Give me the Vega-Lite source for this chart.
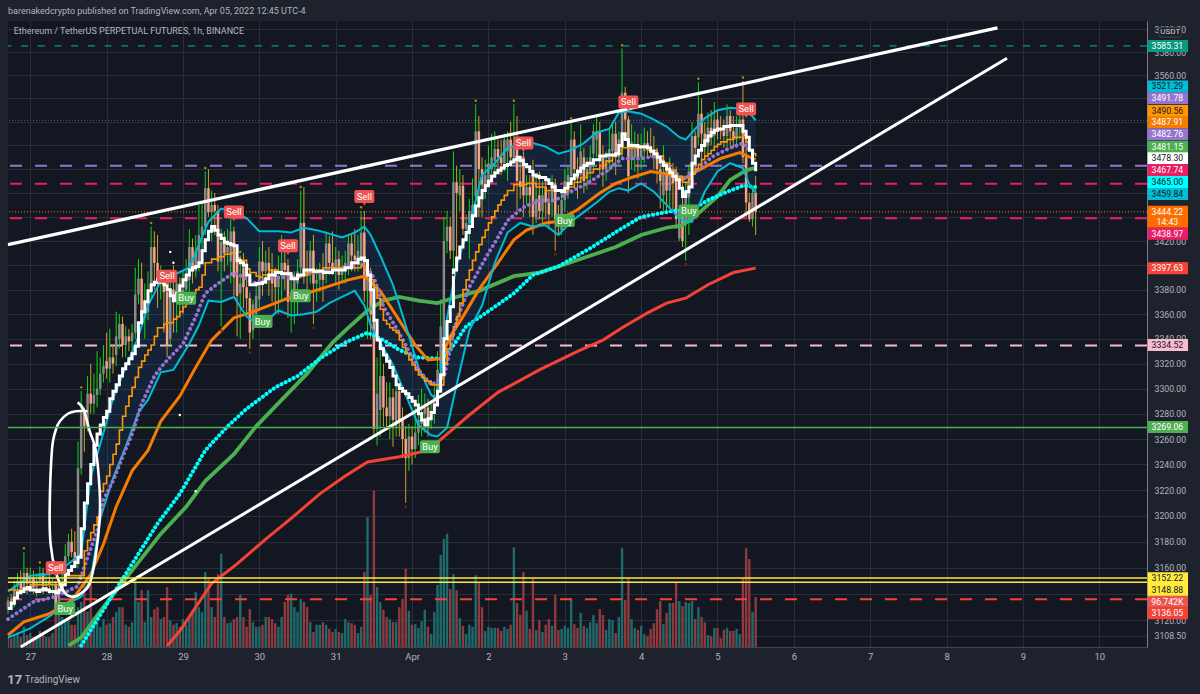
{
"$schema":"https://vega.github.io/schema/vega-lite/v6.json",
"width":1139,"height":626,"autosize":"none",
"padding":{"left":8,"top":21,"right":53,"bottom":47},
"background":"#1e222d",
"view":{"fill":"#131722","stroke":null},
"config":{"font":"Roboto","style":{"guide-label":{"font":"Roboto"}}},
"datasets":{
"candles":[
{"hour":-7,"open":3128,"high":3138,"low":3125,"close":3135,"volume":23},
{"hour":-6,"open":3135,"high":3140,"low":3128,"close":3132,"volume":17},
{"hour":-5,"open":3132,"high":3150,"low":3130,"close":3146,"volume":21},
{"hour":-4,"open":3146,"high":3156,"low":3142,"close":3150,"volume":27},
{"hour":-3,"open":3150,"high":3158,"low":3140,"close":3144,"volume":19},
{"hour":-2,"open":3144,"high":3172,"low":3142,"close":3156,"volume":39},
{"hour":-1,"open":3156,"high":3160,"low":3140,"close":3148,"volume":23},
{"hour":0,"open":3148,"high":3160,"low":3142,"close":3152,"volume":27},
{"hour":1,"open":3152,"high":3158,"low":3140,"close":3145,"volume":19},
{"hour":2,"open":3145,"high":3156,"low":3138,"close":3150,"volume":19},
{"hour":3,"open":3150,"high":3161,"low":3146,"close":3156,"volume":31},
{"hour":4,"open":3156,"high":3160,"low":3140,"close":3146,"volume":23},
{"hour":5,"open":3146,"high":3154,"low":3142,"close":3150,"volume":19},
{"hour":6,"open":3150,"high":3155,"low":3140,"close":3147,"volume":19},
{"hour":7,"open":3147,"high":3152,"low":3138,"close":3148,"volume":27},
{"hour":8,"open":3148,"high":3150,"low":3124,"close":3127,"volume":108},
{"hour":9,"open":3127,"high":3150,"low":3124,"close":3146,"volume":70},
{"hour":10,"open":3146,"high":3160,"low":3144,"close":3148,"volume":58},
{"hour":11,"open":3153,"high":3178,"low":3150,"close":3169,"volume":50},
{"hour":12,"open":3169,"high":3186,"low":3165,"close":3180,"volume":58},
{"hour":13,"open":3180,"high":3190,"low":3168,"close":3172,"volume":43},
{"hour":14,"open":3172,"high":3188,"low":3160,"close":3165,"volume":43},
{"hour":15,"open":3165,"high":3258,"low":3160,"close":3237,"volume":77},
{"hour":16,"open":3237,"high":3298,"low":3232,"close":3281,"volume":87},
{"hour":17,"open":3281,"high":3285,"low":3250,"close":3270,"volume":126},
{"hour":18,"open":3270,"high":3310,"low":3266,"close":3296,"volume":68},
{"hour":19,"open":3296,"high":3320,"low":3280,"close":3288,"volume":126},
{"hour":20,"open":3288,"high":3312,"low":3280,"close":3295,"volume":58},
{"hour":21,"open":3295,"high":3330,"low":3285,"close":3300,"volume":48},
{"hour":22,"open":3300,"high":3325,"low":3295,"close":3312,"volume":39},
{"hour":23,"open":3312,"high":3335,"low":3305,"close":3318,"volume":54},
{"hour":24,"open":3322,"high":3345,"low":3308,"close":3316,"volume":43},
{"hour":25,"open":3316,"high":3348,"low":3305,"close":3325,"volume":46},
{"hour":26,"open":3325,"high":3335,"low":3312,"close":3320,"volume":58},
{"hour":27,"open":3327,"high":3362,"low":3318,"close":3342,"volume":68},
{"hour":28,"open":3340,"high":3360,"low":3332,"close":3352,"volume":77},
{"hour":29,"open":3352,"high":3358,"low":3325,"close":3335,"volume":77},
{"hour":30,"open":3335,"high":3350,"low":3325,"close":3342,"volume":43},
{"hour":31,"open":3342,"high":3348,"low":3330,"close":3338,"volume":39},
{"hour":32,"open":3338,"high":3352,"low":3332,"close":3345,"volume":48},
{"hour":33,"open":3345,"high":3398,"low":3340,"close":3376,"volume":130},
{"hour":34,"open":3376,"high":3405,"low":3368,"close":3389,"volume":87},
{"hour":35,"open":3389,"high":3402,"low":3350,"close":3357,"volume":110},
{"hour":36,"open":3357,"high":3385,"low":3340,"close":3362,"volume":48},
{"hour":37,"open":3362,"high":3395,"low":3355,"close":3378,"volume":110},
{"hour":38,"open":3378,"high":3432,"low":3372,"close":3415,"volume":58},
{"hour":39,"open":3415,"high":3428,"low":3380,"close":3402,"volume":73},
{"hour":40,"open":3402,"high":3425,"low":3365,"close":3385,"volume":77},
{"hour":41,"open":3385,"high":3400,"low":3372,"close":3392,"volume":54},
{"hour":42,"open":3392,"high":3395,"low":3345,"close":3378,"volume":58},
{"hour":43,"open":3378,"high":3380,"low":3325,"close":3335,"volume":116},
{"hour":44,"open":3340,"high":3392,"low":3335,"close":3380,"volume":52},
{"hour":45,"open":3380,"high":3400,"low":3345,"close":3370,"volume":43},
{"hour":46,"open":3370,"high":3395,"low":3345,"close":3385,"volume":46},
{"hour":47,"open":3385,"high":3390,"low":3362,"close":3372,"volume":39},
{"hour":48,"open":3372,"high":3395,"low":3360,"close":3380,"volume":54},
{"hour":49,"open":3380,"high":3405,"low":3372,"close":3388,"volume":43},
{"hour":50,"open":3388,"high":3430,"low":3370,"close":3415,"volume":58},
{"hour":51,"open":3415,"high":3422,"low":3385,"close":3395,"volume":68},
{"hour":52,"open":3395,"high":3425,"low":3390,"close":3412,"volume":106},
{"hour":53,"open":3400,"high":3450,"low":3395,"close":3425,"volume":77},
{"hour":54,"open":3425,"high":3452,"low":3410,"close":3432,"volume":68},
{"hour":55,"open":3432,"high":3478,"low":3425,"close":3464,"volume":145},
{"hour":56,"open":3464,"high":3480,"low":3440,"close":3444,"volume":132},
{"hour":57,"open":3444,"high":3462,"low":3420,"close":3450,"volume":77},
{"hour":58,"open":3450,"high":3460,"low":3425,"close":3445,"volume":58},
{"hour":59,"open":3445,"high":3450,"low":3395,"close":3403,"volume":141},
{"hour":60,"open":3403,"high":3430,"low":3350,"close":3419,"volume":180},
{"hour":61,"open":3419,"high":3428,"low":3395,"close":3410,"volume":58},
{"hour":62,"open":3410,"high":3430,"low":3400,"close":3415,"volume":46},
{"hour":63,"open":3403,"high":3440,"low":3385,"close":3428,"volume":48},
{"hour":64,"open":3428,"high":3432,"low":3375,"close":3390,"volume":54},
{"hour":65,"open":3405,"high":3412,"low":3342,"close":3375,"volume":58},
{"hour":66,"open":3377,"high":3408,"low":3340,"close":3385,"volume":101},
{"hour":67,"open":3398,"high":3410,"low":3365,"close":3382,"volume":58},
{"hour":68,"open":3382,"high":3392,"low":3360,"close":3373,"volume":39},
{"hour":69,"open":3373,"high":3378,"low":3332,"close":3345,"volume":73},
{"hour":70,"open":3347,"high":3372,"low":3340,"close":3368,"volume":48},
{"hour":71,"open":3360,"high":3385,"low":3350,"close":3375,"volume":39},
{"hour":72,"open":3372,"high":3415,"low":3365,"close":3403,"volume":39},
{"hour":73,"open":3403,"high":3420,"low":3375,"close":3395,"volume":43},
{"hour":74,"open":3395,"high":3412,"low":3385,"close":3402,"volume":58},
{"hour":75,"open":3402,"high":3415,"low":3375,"close":3396,"volume":58},
{"hour":76,"open":3396,"high":3410,"low":3370,"close":3385,"volume":54},
{"hour":77,"open":3392,"high":3398,"low":3362,"close":3382,"volume":46},
{"hour":78,"open":3382,"high":3408,"low":3360,"close":3390,"volume":39},
{"hour":79,"open":3392,"high":3425,"low":3372,"close":3402,"volume":58},
{"hour":80,"open":3402,"high":3420,"low":3380,"close":3396,"volume":87},
{"hour":81,"open":3400,"high":3405,"low":3357,"close":3370,"volume":101},
{"hour":82,"open":3370,"high":3390,"low":3345,"close":3378,"volume":103},
{"hour":83,"open":3378,"high":3395,"low":3352,"close":3388,"volume":77},
{"hour":84,"open":3385,"high":3405,"low":3360,"close":3395,"volume":68},
{"hour":85,"open":3398,"high":3462,"low":3390,"close":3435,"volume":93},
{"hour":86,"open":3435,"high":3465,"low":3385,"close":3396,"volume":87},
{"hour":87,"open":3396,"high":3412,"low":3375,"close":3392,"volume":77},
{"hour":88,"open":3392,"high":3420,"low":3385,"close":3412,"volume":48},
{"hour":89,"open":3412,"high":3425,"low":3352,"close":3385,"volume":29},
{"hour":90,"open":3385,"high":3398,"low":3370,"close":3388,"volume":43},
{"hour":91,"open":3388,"high":3402,"low":3378,"close":3393,"volume":43},
{"hour":92,"open":3393,"high":3410,"low":3370,"close":3388,"volume":48},
{"hour":93,"open":3395,"high":3428,"low":3385,"close":3418,"volume":43},
{"hour":94,"open":3418,"high":3424,"low":3392,"close":3402,"volume":35},
{"hour":95,"open":3402,"high":3428,"low":3392,"close":3398,"volume":29},
{"hour":96,"open":3398,"high":3415,"low":3385,"close":3405,"volume":35},
{"hour":97,"open":3405,"high":3412,"low":3380,"close":3392,"volume":29},
{"hour":98,"open":3392,"high":3408,"low":3385,"close":3398,"volume":27},
{"hour":99,"open":3398,"high":3412,"low":3385,"close":3402,"volume":54},
{"hour":100,"open":3398,"high":3425,"low":3392,"close":3418,"volume":48},
{"hour":101,"open":3418,"high":3425,"low":3395,"close":3408,"volume":46},
{"hour":102,"open":3408,"high":3430,"low":3395,"close":3404,"volume":43},
{"hour":103,"open":3404,"high":3425,"low":3395,"close":3412,"volume":27},
{"hour":104,"open":3405,"high":3445,"low":3400,"close":3427,"volume":39},
{"hour":105,"open":3427,"high":3445,"low":3370,"close":3379,"volume":145},
{"hour":106,"open":3379,"high":3400,"low":3340,"close":3395,"volume":251},
{"hour":107,"open":3395,"high":3398,"low":3340,"close":3360,"volume":101},
{"hour":108,"open":3355,"high":3360,"low":3262,"close":3268,"volume":302},
{"hour":109,"open":3268,"high":3325,"low":3255,"close":3296,"volume":116},
{"hour":110,"open":3283,"high":3330,"low":3262,"close":3310,"volume":87},
{"hour":111,"open":3310,"high":3320,"low":3270,"close":3285,"volume":72},
{"hour":112,"open":3285,"high":3305,"low":3268,"close":3278,"volume":58},
{"hour":113,"open":3278,"high":3305,"low":3260,"close":3293,"volume":54},
{"hour":114,"open":3293,"high":3300,"low":3254,"close":3275,"volume":48},
{"hour":115,"open":3270,"high":3310,"low":3262,"close":3298,"volume":48},
{"hour":116,"open":3298,"high":3302,"low":3262,"close":3275,"volume":77},
{"hour":117,"open":3275,"high":3285,"low":3245,"close":3260,"volume":93},
{"hour":118,"open":3260,"high":3270,"low":3210,"close":3245,"volume":151},
{"hour":119,"open":3245,"high":3272,"low":3235,"close":3262,"volume":70},
{"hour":120,"open":3262,"high":3270,"low":3240,"close":3252,"volume":43},
{"hour":121,"open":3252,"high":3285,"low":3245,"close":3265,"volume":44},
{"hour":122,"open":3265,"high":3295,"low":3255,"close":3275,"volume":37},
{"hour":123,"open":3272,"high":3300,"low":3262,"close":3280,"volume":50},
{"hour":124,"open":3280,"high":3296,"low":3265,"close":3285,"volume":72},
{"hour":125,"open":3285,"high":3292,"low":3262,"close":3275,"volume":39},
{"hour":126,"open":3275,"high":3290,"low":3268,"close":3280,"volume":25},
{"hour":127,"open":3280,"high":3305,"low":3272,"close":3295,"volume":68},
{"hour":128,"open":3295,"high":3330,"low":3290,"close":3315,"volume":120},
{"hour":129,"open":3315,"high":3372,"low":3312,"close":3350,"volume":178},
{"hour":130,"open":3340,"high":3440,"low":3335,"close":3420,"volume":209},
{"hour":131,"open":3420,"high":3445,"low":3410,"close":3432,"volume":219},
{"hour":132,"open":3432,"high":3440,"low":3405,"close":3412,"volume":112},
{"hour":133,"open":3412,"high":3495,"low":3395,"close":3469,"volume":141},
{"hour":134,"open":3469,"high":3483,"low":3395,"close":3460,"volume":110},
{"hour":135,"open":3458,"high":3480,"low":3445,"close":3466,"volume":56},
{"hour":136,"open":3466,"high":3475,"low":3425,"close":3430,"volume":41},
{"hour":137,"open":3430,"high":3442,"low":3428,"close":3435,"volume":25},
{"hour":138,"open":3435,"high":3455,"low":3405,"close":3445,"volume":43},
{"hour":139,"open":3440,"high":3472,"low":3435,"close":3450,"volume":39},
{"hour":140,"open":3457,"high":3535,"low":3445,"close":3512,"volume":139},
{"hour":141,"open":3512,"high":3525,"low":3440,"close":3480,"volume":124},
{"hour":142,"open":3480,"high":3490,"low":3440,"close":3467,"volume":77},
{"hour":143,"open":3465,"high":3488,"low":3455,"close":3475,"volume":31},
{"hour":144,"open":3472,"high":3500,"low":3465,"close":3485,"volume":39},
{"hour":145,"open":3480,"high":3510,"low":3470,"close":3490,"volume":37},
{"hour":146,"open":3487,"high":3512,"low":3478,"close":3497,"volume":37},
{"hour":147,"open":3497,"high":3505,"low":3480,"close":3490,"volume":37},
{"hour":148,"open":3490,"high":3505,"low":3475,"close":3485,"volume":31},
{"hour":149,"open":3485,"high":3510,"low":3478,"close":3505,"volume":39},
{"hour":150,"open":3495,"high":3512,"low":3470,"close":3505,"volume":35},
{"hour":151,"open":3505,"high":3520,"low":3482,"close":3490,"volume":43},
{"hour":152,"open":3490,"high":3535,"low":3488,"close":3502,"volume":193},
{"hour":153,"open":3502,"high":3525,"low":3445,"close":3470,"volume":85},
{"hour":154,"open":3470,"high":3490,"low":3455,"close":3465,"volume":62},
{"hour":155,"open":3490,"high":3495,"low":3440,"close":3458,"volume":145},
{"hour":156,"open":3458,"high":3475,"low":3450,"close":3465,"volume":70},
{"hour":157,"open":3465,"high":3475,"low":3440,"close":3458,"volume":35},
{"hour":158,"open":3475,"high":3488,"low":3425,"close":3440,"volume":132},
{"hour":159,"open":3440,"high":3475,"low":3435,"close":3455,"volume":33},
{"hour":160,"open":3458,"high":3478,"low":3438,"close":3445,"volume":52},
{"hour":161,"open":3445,"high":3470,"low":3435,"close":3458,"volume":29},
{"hour":162,"open":3465,"high":3472,"low":3440,"close":3452,"volume":43},
{"hour":163,"open":3452,"high":3462,"low":3430,"close":3442,"volume":54},
{"hour":164,"open":3452,"high":3475,"low":3440,"close":3468,"volume":41},
{"hour":165,"open":3468,"high":3472,"low":3412,"close":3438,"volume":101},
{"hour":166,"open":3438,"high":3450,"low":3425,"close":3432,"volume":33},
{"hour":167,"open":3429,"high":3462,"low":3425,"close":3454,"volume":35},
{"hour":168,"open":3454,"high":3480,"low":3445,"close":3470,"volume":41},
{"hour":169,"open":3465,"high":3482,"low":3455,"close":3475,"volume":37},
{"hour":170,"open":3474,"high":3520,"low":3465,"close":3505,"volume":91},
{"hour":171,"open":3505,"high":3512,"low":3470,"close":3480,"volume":44},
{"hour":172,"open":3480,"high":3490,"low":3455,"close":3472,"volume":37},
{"hour":173,"open":3475,"high":3518,"low":3468,"close":3495,"volume":66},
{"hour":174,"open":3490,"high":3498,"low":3460,"close":3470,"volume":41},
{"hour":175,"open":3472,"high":3490,"low":3463,"close":3480,"volume":37},
{"hour":176,"open":3478,"high":3500,"low":3470,"close":3490,"volume":48},
{"hour":177,"open":3493,"high":3518,"low":3480,"close":3512,"volume":62},
{"hour":178,"open":3505,"high":3525,"low":3490,"close":3512,"volume":46},
{"hour":179,"open":3512,"high":3520,"low":3475,"close":3490,"volume":73},
{"hour":180,"open":3490,"high":3500,"low":3465,"close":3480,"volume":62},
{"hour":181,"open":3480,"high":3495,"low":3470,"close":3487,"volume":33},
{"hour":182,"open":3485,"high":3515,"low":3478,"close":3497,"volume":54},
{"hour":183,"open":3495,"high":3520,"low":3482,"close":3510,"volume":52},
{"hour":184,"open":3510,"high":3520,"low":3475,"close":3490,"volume":27},
{"hour":185,"open":3490,"high":3512,"low":3482,"close":3505,"volume":58},
{"hour":186,"open":3498,"high":3583,"low":3490,"close":3545,"volume":191},
{"hour":187,"open":3545,"high":3550,"low":3510,"close":3522,"volume":91},
{"hour":188,"open":3522,"high":3525,"low":3460,"close":3474,"volume":132},
{"hour":189,"open":3488,"high":3518,"low":3480,"close":3503,"volume":54},
{"hour":190,"open":3490,"high":3512,"low":3478,"close":3500,"volume":37},
{"hour":191,"open":3500,"high":3510,"low":3472,"close":3490,"volume":33},
{"hour":192,"open":3490,"high":3510,"low":3480,"close":3498,"volume":41},
{"hour":193,"open":3495,"high":3515,"low":3485,"close":3502,"volume":25},
{"hour":194,"open":3502,"high":3512,"low":3490,"close":3497,"volume":21},
{"hour":195,"open":3497,"high":3515,"low":3490,"close":3495,"volume":35},
{"hour":196,"open":3495,"high":3508,"low":3480,"close":3490,"volume":46},
{"hour":197,"open":3490,"high":3498,"low":3468,"close":3480,"volume":73},
{"hour":198,"open":3480,"high":3490,"low":3447,"close":3470,"volume":89},
{"hour":199,"open":3458,"high":3500,"low":3445,"close":3478,"volume":44},
{"hour":200,"open":3478,"high":3485,"low":3445,"close":3462,"volume":66},
{"hour":201,"open":3462,"high":3490,"low":3448,"close":3480,"volume":85},
{"hour":202,"open":3480,"high":3485,"low":3445,"close":3468,"volume":85},
{"hour":203,"open":3477,"high":3482,"low":3430,"close":3438,"volume":124},
{"hour":204,"open":3422,"high":3450,"low":3420,"close":3445,"volume":89},
{"hour":205,"open":3450,"high":3470,"low":3415,"close":3420,"volume":79},
{"hour":206,"open":3435,"high":3470,"low":3404,"close":3456,"volume":87},
{"hour":207,"open":3456,"high":3484,"low":3425,"close":3478,"volume":85},
{"hour":208,"open":3480,"high":3520,"low":3470,"close":3508,"volume":89},
{"hour":209,"open":3508,"high":3512,"low":3480,"close":3498,"volume":54},
{"hour":210,"open":3507,"high":3554,"low":3500,"close":3527,"volume":77},
{"hour":211,"open":3527,"high":3540,"low":3488,"close":3510,"volume":58},
{"hour":212,"open":3510,"high":3520,"low":3490,"close":3500,"volume":48},
{"hour":213,"open":3500,"high":3528,"low":3492,"close":3515,"volume":23},
{"hour":214,"open":3515,"high":3530,"low":3500,"close":3508,"volume":21},
{"hour":215,"open":3508,"high":3537,"low":3500,"close":3522,"volume":37},
{"hour":216,"open":3522,"high":3530,"low":3505,"close":3515,"volume":37},
{"hour":217,"open":3515,"high":3525,"low":3505,"close":3512,"volume":17},
{"hour":218,"open":3512,"high":3522,"low":3498,"close":3508,"volume":33},
{"hour":219,"open":3508,"high":3535,"low":3498,"close":3525,"volume":37},
{"hour":220,"open":3525,"high":3530,"low":3500,"close":3512,"volume":31},
{"hour":221,"open":3512,"high":3525,"low":3498,"close":3505,"volume":31},
{"hour":222,"open":3505,"high":3525,"low":3498,"close":3515,"volume":35},
{"hour":223,"open":3515,"high":3530,"low":3505,"close":3522,"volume":25},
{"hour":224,"open":3522,"high":3555,"low":3485,"close":3490,"volume":133},
{"hour":225,"open":3490,"high":3510,"low":3440,"close":3452,"volume":191},
{"hour":226,"open":3452,"high":3460,"low":3436,"close":3438,"volume":170},
{"hour":227,"open":3438,"high":3465,"low":3432,"close":3460,"volume":68},
{"hour":228,"open":3460,"high":3474,"low":3425,"close":3444.22,"volume":96.742}
],
"band":[
{"hour":-7,"upper":3142,"lower":3107},{"hour":0,"upper":3154,"lower":3114},{"hour":6,"upper":3155,"lower":3123},{"hour":12,"upper":3163,"lower":3133},{"hour":16,"upper":3171,"lower":3138},{"hour":19,"upper":3230,"lower":3151},{"hour":22,"upper":3256,"lower":3198},{"hour":26,"upper":3292,"lower":3229},{"hour":30,"upper":3317,"lower":3254},{"hour":34,"upper":3342,"lower":3281},{"hour":37,"upper":3367,"lower":3291},{"hour":41,"upper":3387,"lower":3313},{"hour":45,"upper":3392,"lower":3315},{"hour":50,"upper":3398,"lower":3336},{"hour":53,"upper":3417,"lower":3351},{"hour":56,"upper":3436,"lower":3371},{"hour":60,"upper":3447,"lower":3370},{"hour":64,"upper":3444,"lower":3374},{"hour":68,"upper":3439,"lower":3358},{"hour":72,"upper":3428,"lower":3351},{"hour":74,"upper":3428,"lower":3354},{"hour":78,"upper":3428,"lower":3363},{"hour":82,"upper":3427,"lower":3359},{"hour":86,"upper":3431,"lower":3360},{"hour":90,"upper":3429,"lower":3362},{"hour":94,"upper":3426,"lower":3369},{"hour":98,"upper":3423,"lower":3374},{"hour":102,"upper":3427,"lower":3379},{"hour":105,"upper":3432,"lower":3367},{"hour":107,"upper":3425,"lower":3351},{"hour":110,"upper":3408,"lower":3337},{"hour":114,"upper":3384,"lower":3319},{"hour":118,"upper":3351,"lower":3295},{"hour":122,"upper":3317,"lower":3271},{"hour":126,"upper":3295,"lower":3263},{"hour":128,"upper":3291,"lower":3262},{"hour":131,"upper":3357,"lower":3269},{"hour":134,"upper":3400,"lower":3303},{"hour":138,"upper":3433,"lower":3347},{"hour":142,"upper":3475,"lower":3367},{"hour":146,"upper":3485,"lower":3402},{"hour":150,"upper":3498,"lower":3427},{"hour":154,"upper":3500,"lower":3435},{"hour":158,"upper":3502,"lower":3432},{"hour":162,"upper":3499,"lower":3433},{"hour":166,"upper":3493,"lower":3425},{"hour":170,"upper":3496,"lower":3436},{"hour":174,"upper":3502,"lower":3444},{"hour":178,"upper":3511,"lower":3452},{"hour":182,"upper":3514,"lower":3461},{"hour":185,"upper":3528,"lower":3464},{"hour":188,"upper":3529,"lower":3462},{"hour":192,"upper":3527,"lower":3468},{"hour":196,"upper":3522,"lower":3461},{"hour":200,"upper":3516,"lower":3450},{"hour":204,"upper":3507,"lower":3439},{"hour":206,"upper":3505,"lower":3436},{"hour":208,"upper":3511,"lower":3436},{"hour":212,"upper":3523,"lower":3461},{"hour":216,"upper":3530,"lower":3478},{"hour":220,"upper":3532,"lower":3485},{"hour":224,"upper":3531,"lower":3481},{"hour":226,"upper":3528,"lower":3467},{"hour":228,"upper":3521.29,"lower":3459.84}
],
"whiteStep":[
{"hour":-7,"price":3129},{"hour":-6,"price":3133},{"hour":-5,"price":3137},{"hour":-4,"price":3141},{"hour":-3,"price":3142},{"hour":-2,"price":3144},{"hour":-1,"price":3145},{"hour":0,"price":3143},{"hour":2,"price":3142},{"hour":3,"price":3143},{"hour":4,"price":3144},{"hour":5,"price":3143},{"hour":6,"price":3142},{"hour":8,"price":3141},{"hour":9,"price":3143},{"hour":10,"price":3147},{"hour":11,"price":3155},{"hour":12,"price":3158},{"hour":13,"price":3161},{"hour":14,"price":3164},{"hour":15,"price":3168},{"hour":16,"price":3190},{"hour":17,"price":3210},{"hour":18,"price":3225},{"hour":19,"price":3240},{"hour":20,"price":3255},{"hour":21,"price":3264},{"hour":22,"price":3271},{"hour":23,"price":3277},{"hour":24,"price":3282},{"hour":25,"price":3292},{"hour":26,"price":3298},{"hour":27,"price":3303},{"hour":28,"price":3310},{"hour":29,"price":3316},{"hour":30,"price":3320},{"hour":31,"price":3324},{"hour":32,"price":3328},{"hour":33,"price":3334},{"hour":34,"price":3353},{"hour":35,"price":3362},{"hour":36,"price":3370},{"hour":37,"price":3379},{"hour":38,"price":3384},{"hour":39,"price":3386},{"hour":40,"price":3388},{"hour":41,"price":3386},{"hour":42,"price":3384},{"hour":43,"price":3380},{"hour":44,"price":3375},{"hour":45,"price":3371},{"hour":46,"price":3377},{"hour":47,"price":3383},{"hour":48,"price":3388},{"hour":49,"price":3392},{"hour":50,"price":3396},{"hour":51,"price":3398},{"hour":52,"price":3399},{"hour":53,"price":3402},{"hour":54,"price":3412},{"hour":55,"price":3421},{"hour":56,"price":3428},{"hour":57,"price":3432},{"hour":58,"price":3429},{"hour":59,"price":3425},{"hour":60,"price":3422},{"hour":61,"price":3419},{"hour":62,"price":3418},{"hour":63,"price":3417},{"hour":64,"price":3416},{"hour":65,"price":3404},{"hour":66,"price":3402},{"hour":67,"price":3400},{"hour":68,"price":3392},{"hour":69,"price":3384},{"hour":71,"price":3385},{"hour":73,"price":3386},{"hour":74,"price":3389},{"hour":75,"price":3392},{"hour":77,"price":3394},{"hour":79,"price":3393},{"hour":82,"price":3389},{"hour":84,"price":3392},{"hour":86,"price":3396},{"hour":89,"price":3395},{"hour":92,"price":3394},{"hour":95,"price":3396},{"hour":99,"price":3398},{"hour":101,"price":3402},{"hour":103,"price":3405},{"hour":104,"price":3406},{"hour":105,"price":3404},{"hour":106,"price":3392},{"hour":107,"price":3380},{"hour":108,"price":3355},{"hour":109,"price":3339},{"hour":110,"price":3332},{"hour":111,"price":3327},{"hour":112,"price":3322},{"hour":113,"price":3317},{"hour":114,"price":3310},{"hour":115,"price":3303},{"hour":116,"price":3300},{"hour":117,"price":3298},{"hour":118,"price":3296},{"hour":119,"price":3293},{"hour":120,"price":3290},{"hour":121,"price":3287},{"hour":122,"price":3280},{"hour":123,"price":3275},{"hour":124,"price":3271},{"hour":125,"price":3276},{"hour":126,"price":3281},{"hour":127,"price":3287},{"hour":128,"price":3298},{"hour":129,"price":3311},{"hour":130,"price":3340},{"hour":131,"price":3354},{"hour":132,"price":3366},{"hour":133,"price":3396},{"hour":134,"price":3406},{"hour":135,"price":3415},{"hour":136,"price":3421},{"hour":137,"price":3427},{"hour":138,"price":3432},{"hour":139,"price":3441},{"hour":140,"price":3449},{"hour":141,"price":3456},{"hour":142,"price":3462},{"hour":143,"price":3466},{"hour":144,"price":3470},{"hour":145,"price":3474},{"hour":146,"price":3477},{"hour":147,"price":3479},{"hour":148,"price":3481},{"hour":149,"price":3483},{"hour":150,"price":3484},{"hour":151,"price":3486},{"hour":152,"price":3488},{"hour":153,"price":3490},{"hour":154,"price":3487},{"hour":155,"price":3484},{"hour":156,"price":3482},{"hour":157,"price":3478},{"hour":158,"price":3475},{"hour":159,"price":3474},{"hour":160,"price":3473},{"hour":162,"price":3471},{"hour":163,"price":3468},{"hour":164,"price":3465},{"hour":165,"price":3462},{"hour":167,"price":3461},{"hour":168,"price":3464},{"hour":169,"price":3468},{"hour":170,"price":3472},{"hour":171,"price":3475},{"hour":172,"price":3478},{"hour":173,"price":3481},{"hour":174,"price":3483},{"hour":175,"price":3485},{"hour":177,"price":3488},{"hour":179,"price":3491},{"hour":181,"price":3492},{"hour":184,"price":3493},{"hour":185,"price":3500},{"hour":186,"price":3510},{"hour":187,"price":3505},{"hour":188,"price":3500},{"hour":191,"price":3499},{"hour":194,"price":3498},{"hour":195,"price":3495},{"hour":196,"price":3493},{"hour":197,"price":3490},{"hour":198,"price":3486},{"hour":199,"price":3483},{"hour":200,"price":3480},{"hour":201,"price":3477},{"hour":202,"price":3474},{"hour":203,"price":3471},{"hour":204,"price":3464},{"hour":205,"price":3457},{"hour":206,"price":3461},{"hour":207,"price":3465},{"hour":208,"price":3485},{"hour":209,"price":3491},{"hour":210,"price":3496},{"hour":211,"price":3500},{"hour":212,"price":3504},{"hour":213,"price":3508},{"hour":214,"price":3511},{"hour":215,"price":3513},{"hour":216,"price":3514},{"hour":218,"price":3516},{"hour":220,"price":3517},{"hour":223,"price":3517},{"hour":224,"price":3512},{"hour":225,"price":3507},{"hour":226,"price":3496},{"hour":227,"price":3485},{"hour":228,"price":3478.3}
],
"orangeStep":[
{"hour":-7,"price":3143},{"hour":0,"price":3147},{"hour":6,"price":3147},{"hour":11,"price":3154},{"hour":16,"price":3154},{"hour":17,"price":3173},{"hour":18,"price":3181},{"hour":19,"price":3187},{"hour":20,"price":3193},{"hour":21,"price":3199},{"hour":22,"price":3219},{"hour":23,"price":3225},{"hour":24,"price":3231},{"hour":25,"price":3240},{"hour":26,"price":3248},{"hour":27,"price":3256},{"hour":28,"price":3267},{"hour":29,"price":3278},{"hour":30,"price":3286},{"hour":31,"price":3294},{"hour":32,"price":3301},{"hour":33,"price":3309},{"hour":34,"price":3317},{"hour":35,"price":3322},{"hour":36,"price":3327},{"hour":37,"price":3331},{"hour":38,"price":3335},{"hour":39,"price":3342},{"hour":40,"price":3349},{"hour":42,"price":3352},{"hour":43,"price":3353},{"hour":45,"price":3356},{"hour":46,"price":3358},{"hour":47,"price":3362},{"hour":48,"price":3366},{"hour":49,"price":3370},{"hour":50,"price":3374},{"hour":51,"price":3377},{"hour":52,"price":3380},{"hour":53,"price":3382},{"hour":54,"price":3392},{"hour":55,"price":3402},{"hour":57,"price":3405},{"hour":59,"price":3407},{"hour":61,"price":3409},{"hour":63,"price":3410},{"hour":65,"price":3406},{"hour":66,"price":3404},{"hour":68,"price":3397},{"hour":69,"price":3394},{"hour":71,"price":3391},{"hour":72,"price":3390},{"hour":73,"price":3392},{"hour":75,"price":3396},{"hour":78,"price":3394},{"hour":82,"price":3390},{"hour":85,"price":3392},{"hour":87,"price":3394},{"hour":90,"price":3396},{"hour":92,"price":3398},{"hour":99,"price":3398},{"hour":104,"price":3400},{"hour":105,"price":3396},{"hour":106,"price":3392},{"hour":107,"price":3388},{"hour":108,"price":3382},{"hour":109,"price":3373},{"hour":110,"price":3364},{"hour":111,"price":3355},{"hour":112,"price":3352},{"hour":113,"price":3349},{"hour":114,"price":3347},{"hour":115,"price":3345},{"hour":116,"price":3339},{"hour":117,"price":3333},{"hour":118,"price":3328},{"hour":119,"price":3323},{"hour":120,"price":3319},{"hour":121,"price":3315},{"hour":122,"price":3311},{"hour":123,"price":3309},{"hour":124,"price":3306},{"hour":126,"price":3303},{"hour":129,"price":3303},{"hour":130,"price":3320},{"hour":131,"price":3332},{"hour":132,"price":3342},{"hour":133,"price":3350},{"hour":134,"price":3358},{"hour":135,"price":3369},{"hour":136,"price":3380},{"hour":137,"price":3388},{"hour":138,"price":3396},{"hour":139,"price":3404},{"hour":140,"price":3411},{"hour":141,"price":3417},{"hour":142,"price":3423},{"hour":143,"price":3429},{"hour":144,"price":3435},{"hour":145,"price":3440},{"hour":146,"price":3445},{"hour":147,"price":3450},{"hour":148,"price":3454},{"hour":149,"price":3458},{"hour":150,"price":3462},{"hour":152,"price":3467},{"hour":156,"price":3468},{"hour":159,"price":3465},{"hour":162,"price":3462},{"hour":167,"price":3461},{"hour":169,"price":3465},{"hour":171,"price":3469},{"hour":173,"price":3473},{"hour":175,"price":3477},{"hour":177,"price":3480},{"hour":179,"price":3483},{"hour":181,"price":3487},{"hour":183,"price":3491},{"hour":184,"price":3493},{"hour":186,"price":3498},{"hour":194,"price":3496},{"hour":197,"price":3491},{"hour":199,"price":3485},{"hour":201,"price":3479},{"hour":203,"price":3474},{"hour":205,"price":3469},{"hour":207,"price":3472},{"hour":208,"price":3476},{"hour":209,"price":3480},{"hour":210,"price":3484},{"hour":211,"price":3488},{"hour":212,"price":3491},{"hour":213,"price":3493},{"hour":214,"price":3496},{"hour":215,"price":3499},{"hour":216,"price":3501},{"hour":217,"price":3503},{"hour":219,"price":3505},{"hour":221,"price":3507},{"hour":224,"price":3509},{"hour":225,"price":3503},{"hour":226,"price":3496},{"hour":227,"price":3493},{"hour":228,"price":3490.56}
],
"purpleDots":[
{"hour":-7,"price":3121},{"hour":1,"price":3134},{"hour":8,"price":3138},{"hour":15,"price":3146},{"hour":18,"price":3168},{"hour":21,"price":3188},{"hour":23,"price":3212},{"hour":26,"price":3227},{"hour":29,"price":3246},{"hour":32,"price":3264},{"hour":35,"price":3288},{"hour":39,"price":3310},{"hour":42,"price":3320},{"hour":48,"price":3336},{"hour":52,"price":3358},{"hour":55,"price":3377},{"hour":59,"price":3385},{"hour":64,"price":3394},{"hour":68,"price":3389},{"hour":71,"price":3385},{"hour":75,"price":3390},{"hour":82,"price":3390},{"hour":90,"price":3394},{"hour":98,"price":3398},{"hour":104,"price":3402},{"hour":108,"price":3390},{"hour":111,"price":3366},{"hour":115,"price":3349},{"hour":118,"price":3335},{"hour":122,"price":3315},{"hour":126,"price":3303},{"hour":130,"price":3309},{"hour":134,"price":3355},{"hour":138,"price":3382},{"hour":141,"price":3396},{"hour":144,"price":3410},{"hour":147,"price":3423},{"hour":150,"price":3437},{"hour":155,"price":3448},{"hour":160,"price":3454},{"hour":165,"price":3454},{"hour":169,"price":3460},{"hour":175,"price":3468},{"hour":181,"price":3478},{"hour":186,"price":3489},{"hour":192,"price":3489},{"hour":197,"price":3491},{"hour":201,"price":3481},{"hour":205,"price":3472},{"hour":209,"price":3477},{"hour":214,"price":3490},{"hour":220,"price":3498},{"hour":224,"price":3502},{"hour":228,"price":3491.78}
],
"ema":[
{"hour":-7,"price":3109},{"hour":-2,"price":3119},{"hour":6,"price":3125},{"hour":13,"price":3135},{"hour":19,"price":3155},{"hour":23,"price":3178},{"hour":27,"price":3207},{"hour":32,"price":3235},{"hour":37,"price":3251},{"hour":41,"price":3274},{"hour":47,"price":3294},{"hour":52,"price":3317},{"hour":57,"price":3339},{"hour":64,"price":3357},{"hour":69,"price":3361},{"hour":75,"price":3367},{"hour":81,"price":3373},{"hour":87,"price":3377},{"hour":93,"price":3382},{"hour":100,"price":3388},{"hour":105,"price":3391},{"hour":110,"price":3379},{"hour":116,"price":3355},{"hour":121,"price":3335},{"hour":125,"price":3323},{"hour":129,"price":3324},{"hour":132,"price":3342},{"hour":136,"price":3358},{"hour":141,"price":3380},{"hour":147,"price":3402},{"hour":152,"price":3421},{"hour":156,"price":3429},{"hour":162,"price":3435},{"hour":165,"price":3436},{"hour":172,"price":3446},{"hour":179,"price":3460},{"hour":184,"price":3468},{"hour":189,"price":3473},{"hour":195,"price":3478},{"hour":200,"price":3476},{"hour":205,"price":3471},{"hour":210,"price":3479},{"hour":217,"price":3489},{"hour":223,"price":3494},{"hour":228,"price":3487.91}
],
"cyanDots":[
{"hour":16,"price":3101},{"hour":24,"price":3132},{"hour":32,"price":3163},{"hour":40,"price":3194},{"hour":47,"price":3217},{"hour":55,"price":3251},{"hour":62,"price":3270},{"hour":68,"price":3284},{"hour":77,"price":3301},{"hour":84,"price":3310},{"hour":91,"price":3324},{"hour":99,"price":3337},{"hour":106,"price":3345},{"hour":111,"price":3339},{"hour":116,"price":3331},{"hour":122,"price":3325},{"hour":129,"price":3324},{"hour":132,"price":3331},{"hour":137,"price":3350},{"hour":146,"price":3366},{"hour":152,"price":3377},{"hour":158,"price":3392},{"hour":166,"price":3399},{"hour":176,"price":3414},{"hour":185,"price":3429},{"hour":192,"price":3440},{"hour":202,"price":3445},{"hour":208,"price":3446},{"hour":213,"price":3454},{"hour":219,"price":3461},{"hour":224,"price":3466},{"hour":228,"price":3465}
],
"greenLine":[
{"hour":12,"price":3101},{"hour":16,"price":3107},{"hour":22,"price":3127},{"hour":32,"price":3158},{"hour":41,"price":3186},{"hour":49,"price":3207},{"hour":55,"price":3227},{"hour":64,"price":3248},{"hour":71,"price":3270},{"hour":79,"price":3291},{"hour":87,"price":3312},{"hour":95,"price":3337},{"hour":100,"price":3349},{"hour":106,"price":3363},{"hour":111,"price":3371},{"hour":116,"price":3374},{"hour":122,"price":3371},{"hour":128,"price":3369},{"hour":134,"price":3374},{"hour":141,"price":3379},{"hour":152,"price":3391},{"hour":160,"price":3394},{"hour":166,"price":3399},{"hour":175,"price":3407},{"hour":184,"price":3415},{"hour":192,"price":3425},{"hour":200,"price":3431},{"hour":205,"price":3433},{"hour":210,"price":3443},{"hour":216,"price":3457},{"hour":220,"price":3471},{"hour":225,"price":3479},{"hour":228,"price":3481.15}
],
"redLine":[
{"hour":43,"price":3101},{"hour":47,"price":3112},{"hour":52,"price":3130},{"hour":57,"price":3148},{"hour":65,"price":3163},{"hour":74,"price":3182},{"hour":82,"price":3198},{"hour":91,"price":3217},{"hour":99,"price":3231},{"hour":106,"price":3242},{"hour":116,"price":3246},{"hour":125,"price":3251},{"hour":138,"price":3279},{"hour":147,"price":3297},{"hour":160,"price":3315},{"hour":173,"price":3331},{"hour":180,"price":3339},{"hour":186,"price":3349},{"hour":194,"price":3361},{"hour":200,"price":3369},{"hour":206,"price":3373},{"hour":213,"price":3384},{"hour":221,"price":3394},{"hour":228,"price":3397.63}
],
"upperTrend":[{"hour":-7,"price":3417},{"hour":304,"price":3601}],
"lowerTrend":[{"hour":-3,"price":3100},{"hour":307,"price":3574.6}],
"freehand":[
{"step":1,"hour":14.9,"price":3289},{"step":2,"hour":16.8,"price":3283},{"step":3,"hour":18.7,"price":3266},{"step":4,"hour":20.6,"price":3251},{"step":5,"hour":21.8,"price":3220},{"step":6,"hour":21.8,"price":3197},{"step":7,"hour":20.6,"price":3170},{"step":8,"hour":18.7,"price":3148},{"step":9,"hour":16.2,"price":3141},{"step":10,"hour":13.7,"price":3138},{"step":11,"hour":10.8,"price":3141},{"step":12,"hour":8,"price":3157},{"step":13,"hour":6.4,"price":3178},{"step":14,"hour":6.1,"price":3205},{"step":15,"hour":6.8,"price":3251},{"step":16,"hour":8,"price":3267},{"step":17,"hour":9.3,"price":3274},{"step":18,"hour":11.8,"price":3280},{"step":19,"hour":14.3,"price":3282},{"step":20,"hour":18,"price":3282}
],
"levelsThick":[{"price":3482.76,"series":"purple"},{"price":3467.74,"series":"magenta"},{"price":3438.97,"series":"magenta"},{"price":3334.52,"series":"pink"},{"price":3136.05,"series":"red"}],
"levelsSolid":[{"price":3269.06,"series":"green"},{"price":3152.22,"series":"yellow"},{"price":3148.88,"series":"yellow"}],
"levelsDotted":[{"price":3521.29,"series":"grey"},{"price":3444.22,"series":"last"}],
"signals":[
{"hour":8,"price":3160,"signal":"Sell"},{"hour":43,"price":3391,"signal":"Sell"},{"hour":64,"price":3444,"signal":"Sell"},{"hour":81,"price":3416,"signal":"Sell"},{"hour":105,"price":3457,"signal":"Sell"},{"hour":155,"price":3502,"signal":"Sell"},{"hour":188,"price":3537,"signal":"Sell"},{"hour":225,"price":3531,"signal":"Sell"},
{"hour":11,"price":3129,"signal":"Buy"},{"hour":49,"price":3373,"signal":"Buy"},{"hour":73,"price":3354,"signal":"Buy"},{"hour":85,"price":3375,"signal":"Buy"},{"hour":125.6,"price":3254,"signal":"Buy"},{"hour":168,"price":3437,"signal":"Buy"},{"hour":207,"price":3445,"signal":"Buy"}
],
"pivots":[
{"hour":-2,"price":3175,"kind":"high"},{"hour":3,"price":3164,"kind":"high"},{"hour":16,"price":3301,"kind":"high"},{"hour":38,"price":3435,"kind":"high"},{"hour":55,"price":3481,"kind":"high"},{"hour":66,"price":3411,"kind":"high"},{"hour":85,"price":3465,"kind":"high"},{"hour":104,"price":3448,"kind":"high"},{"hour":140,"price":3538,"kind":"high"},{"hour":152,"price":3538,"kind":"high"},{"hour":186,"price":3586,"kind":"high"},{"hour":210,"price":3557,"kind":"high"},{"hour":224,"price":3558,"kind":"high"},{"hour":170,"price":3523,"kind":"high"},
{"hour":60,"price":3347,"kind":"low"},{"hour":69,"price":3329,"kind":"low"},{"hour":118,"price":3207,"kind":"low"},{"hour":165,"price":3409,"kind":"low"},{"hour":206,"price":3401,"kind":"low"},{"hour":89,"price":3349,"kind":"low"},{"hour":133,"price":3392,"kind":"low"},
{"hour":44,"price":3411,"kind":"mark"},{"hour":45,"price":3402,"kind":"mark"},{"hour":47,"price":3279,"kind":"mark"},{"hour":52,"price":3219,"kind":"mark"}
],
"tags":[
{"label":"3585.31","series":"teal","at":3585.3},{"label":"3521.29","series":"bandline","at":3550.3},{"label":"3491.78","series":"purple","at":3540.3},{"label":"3490.56","series":"amber","at":3529.4},{"label":"3487.91","series":"ema","at":3519.8},{"label":"3482.76","series":"purple","at":3509.5},{"label":"3481.15","series":"green","at":3499},{"label":"3478.30","series":"white","at":3489.2},{"label":"3467.74","series":"magenta","at":3479.2},{"label":"3465.00","series":"cyan","at":3469.2},{"label":"3459.84","series":"bandline","at":3459.2},{"label":"3444.22","series":"last","at":3444.4},{"label":"14:43","series":"last","at":3436},{"label":"3438.97","series":"magenta","at":3426.1},{"label":"3397.63","series":"red","at":3397.5},{"label":"3334.52","series":"pink","at":3335},{"label":"3269.06","series":"green","at":3269.5},{"label":"3152.22","series":"yellow","at":3152},{"label":"3148.88","series":"yellow","at":3143},{"label":"96.742K","series":"volume","at":3134.2},{"label":"3136.05","series":"red","at":3125.4}
]
},
"resolve":{"scale":{"y":"independent"}},
"layer":[
{"data":{"name":"candles"},
 "mark":{"type":"bar","size":2.4},
 "encoding":{
  "x":{"field":"hour","type":"quantitative","scale":{"domain":[-7,351],"nice":false,"zero":false,"padding":0},
   "axis":{"title":null,"values":[0,24,48,72,96,120,144,168,192,216,240,264,288,312,336],"labelExpr":"['27','28','29','30','31','Apr','2','3','4','5','6','7','8','9','10'][datum.value/24]","grid":true,"gridColor":"#2a2e39","gridWidth":1,"ticks":false,"domainColor":"#434651","labelColor":"#b2b5be","labelFontSize":9.5,"labelPadding":4,"labelFont":"Roboto"}},
  "y":{"field":"volume","type":"quantitative","scale":{"domain":[0,1210],"nice":false},"axis":null},
  "color":{"condition":{"test":"datum.close>=datum.open","value":"#1f6a6b"},"value":"#8e3a3f"}
 }},
{"layer":[
 {"data":{"values":[{}]},"mark":{"type":"rect","fill":"#1e222d"},
  "encoding":{"x":{"datum":-12,"type":"quantitative"},"x2":{"datum":-7},
   "y":{"datum":3700,"type":"quantitative","scale":{"type":"log","domain":[3100,3607],"nice":false,"zero":false,"padding":0},
    "axis":{"title":null,"orient":"right","values":[3108.5,3120,3140,3160,3180,3200,3220,3240,3260,3280,3300,3320,3340,3360,3380,3400,3420,3440,3460,3480,3500,3520,3540,3560,3580,3600],"format":".2f","grid":true,"gridColor":"#2a2e39","gridWidth":1,"ticks":false,"domainColor":"#787b86","labelColor":"#b2b5be","labelFontSize":8.7,"labelPadding":7,"labelFont":"Roboto"}},
   "y2":{"datum":3040}}},
 {"data":{"values":[{}]},"mark":{"type":"rect","fill":"#1e222d"},
  "encoding":{"x":{"datum":365.1,"type":"quantitative"},"x2":{"datum":380},"y":{"datum":3700,"type":"quantitative"},"y2":{"datum":3040}}},
 {"data":{"values":[{}]},"mark":{"type":"rect","fill":"#1e222d"},
  "encoding":{"x":{"datum":-12,"type":"quantitative"},"x2":{"datum":380},"y":{"datum":3700,"type":"quantitative"},"y2":{"datum":3608}}},
 {"data":{"values":[{}]},"mark":{"type":"rect","fill":"#1e222d"},
  "encoding":{"x":{"datum":-12,"type":"quantitative"},"x2":{"datum":380},"y":{"datum":3083.8,"type":"quantitative"},"y2":{"datum":3040}}},
 {"data":{"name":"levelsThick"},"mark":{"type":"rule","strokeWidth":2,"strokeDash":[12,13]},
  "encoding":{"y":{"field":"price","type":"quantitative"},"stroke":{"field":"series","legend":null,"scale":{"domain":["purple","magenta","pink","red","green","yellow","grey","last","teal"],"range":["#9575cd","#e91e63","#f8bbd0","#f44336","#4caf50","#ffeb3b","#5d606b","#ff6d00","#089981"]}}}},
 {"data":{"values":[{"price":3585.31,"series":"teal"}]},"mark":{"type":"rule","strokeWidth":1.2,"strokeDash":[7,9.7]},
  "encoding":{"y":{"field":"price","type":"quantitative"},"stroke":{"field":"series","legend":null}}},
 {"data":{"name":"levelsDotted"},"mark":{"type":"rule","strokeWidth":1,"strokeDash":[1,2]},
  "encoding":{"y":{"field":"price","type":"quantitative"},"stroke":{"field":"series","legend":null}}},
 {"data":{"name":"band"},"mark":{"type":"area","color":"#2196f3","opacity":0.1},
  "encoding":{"x":{"field":"hour","type":"quantitative"},"y":{"field":"upper","type":"quantitative"},"y2":{"field":"lower"}}},
 {"data":{"name":"candles"},"mark":{"type":"rule","strokeWidth":1},
  "encoding":{"x":{"field":"hour","type":"quantitative"},"y":{"field":"low","type":"quantitative"},"y2":{"field":"high"},
   "color":{"condition":{"test":"datum.close>=datum.open","value":"#12d612"},"value":"#c9a227"}}},
 {"data":{"name":"candles"},"mark":{"type":"rule","strokeWidth":2.5},
  "encoding":{"x":{"field":"hour","type":"quantitative"},"y":{"field":"open","type":"quantitative"},"y2":{"field":"close"},
   "color":{"condition":{"test":"datum.close>=datum.open","value":"#868b87"},"value":"#f4a582"}}},
 {"data":{"name":"redLine"},"mark":{"type":"line","color":"#f44336","strokeWidth":3},
  "encoding":{"x":{"field":"hour","type":"quantitative"},"y":{"field":"price","type":"quantitative"}}},
 {"data":{"name":"greenLine"},"mark":{"type":"line","color":"#4caf50","strokeWidth":3.8},
  "encoding":{"x":{"field":"hour","type":"quantitative"},"y":{"field":"price","type":"quantitative"}}},
 {"data":{"name":"cyanDots"},"mark":{"type":"line","color":"#00ffff","strokeWidth":4,"strokeCap":"round","strokeDash":[0.1,4.4]},
  "encoding":{"x":{"field":"hour","type":"quantitative"},"y":{"field":"price","type":"quantitative"}}},
 {"data":{"name":"ema"},"mark":{"type":"line","color":"#f57c00","strokeWidth":3},
  "encoding":{"x":{"field":"hour","type":"quantitative"},"y":{"field":"price","type":"quantitative"}}},
 {"data":{"name":"band"},"mark":{"type":"line","color":"#00bcd4","strokeWidth":2},
  "encoding":{"x":{"field":"hour","type":"quantitative"},"y":{"field":"upper","type":"quantitative"}}},
 {"data":{"name":"band"},"mark":{"type":"line","color":"#00bcd4","strokeWidth":2},
  "encoding":{"x":{"field":"hour","type":"quantitative"},"y":{"field":"lower","type":"quantitative"}}},
 {"data":{"name":"purpleDots"},"mark":{"type":"line","color":"#9575cd","strokeWidth":3.8,"strokeCap":"round","strokeDash":[0.1,5]},
  "encoding":{"x":{"field":"hour","type":"quantitative"},"y":{"field":"price","type":"quantitative"}}},
 {"data":{"name":"orangeStep"},"mark":{"type":"line","color":"#ff9800","strokeWidth":1.6,"interpolate":"step-after"},
  "encoding":{"x":{"field":"hour","type":"quantitative"},"y":{"field":"price","type":"quantitative"}}},
 {"data":{"name":"whiteStep"},"mark":{"type":"line","color":"#ffffff","strokeWidth":3,"interpolate":"step-after"},
  "encoding":{"x":{"field":"hour","type":"quantitative"},"y":{"field":"price","type":"quantitative"}}},
 {"data":{"name":"upperTrend"},"mark":{"type":"line","color":"#ffffff","strokeWidth":3.2},
  "encoding":{"x":{"field":"hour","type":"quantitative"},"y":{"field":"price","type":"quantitative"}}},
 {"data":{"name":"lowerTrend"},"mark":{"type":"line","color":"#ffffff","strokeWidth":3},
  "encoding":{"x":{"field":"hour","type":"quantitative"},"y":{"field":"price","type":"quantitative"}}},
 {"data":{"name":"freehand"},"mark":{"type":"line","color":"#ffffff","strokeWidth":2.6,"interpolate":"cardinal"},
  "encoding":{"x":{"field":"hour","type":"quantitative"},"y":{"field":"price","type":"quantitative"},"order":{"field":"step"}}},
 {"data":{"name":"levelsSolid"},"mark":{"type":"rule","strokeWidth":1.5},
  "encoding":{"y":{"field":"price","type":"quantitative"},"stroke":{"field":"series","legend":null}}},
 {"data":{"name":"pivots"},"mark":{"type":"point","filled":true,"size":6,"opacity":1},
  "encoding":{"x":{"field":"hour","type":"quantitative"},"y":{"field":"price","type":"quantitative"},
   "color":{"condition":[{"test":"datum.kind=='high'","value":"#a08a1e"},{"test":"datum.kind=='low'","value":"#8b1a1a"}],"value":"#ffffff"}}},
 {"data":{"name":"signals"},"mark":{"type":"point","shape":"triangle-down","filled":true,"size":22,"opacity":1,"yOffset":7},
  "transform":[{"filter":"datum.signal=='Sell'"}],
  "encoding":{"x":{"field":"hour","type":"quantitative"},"y":{"field":"price","type":"quantitative"},"color":{"value":"#ef5350"}}},
 {"data":{"name":"signals"},"mark":{"type":"rect","width":20,"height":13,"cornerRadius":2},
  "encoding":{"x":{"field":"hour","type":"quantitative"},"y":{"field":"price","type":"quantitative"},
   "fill":{"condition":{"test":"datum.signal=='Sell'","value":"#ef5350"},"value":"#4caf50"}}},
 {"data":{"name":"signals"},"mark":{"type":"text","fontSize":9.5,"color":"#ffffff"},
  "encoding":{"x":{"field":"hour","type":"quantitative"},"y":{"field":"price","type":"quantitative"},"text":{"field":"signal"}}},
 {"data":{"name":"tags"},"mark":{"type":"rect","height":12},
  "encoding":{"x":{"datum":351.2,"type":"quantitative"},"x2":{"datum":363.9},"y":{"field":"at","type":"quantitative"},
   "fill":{"field":"series","legend":null,"scale":{"domain":["teal","bandline","purple","amber","ema","green","white","magenta","cyan","last","red","pink","yellow","volume"],"range":["#089981","#00bcd4","#9575cd","#ff9800","#f57c00","#4caf50","#ffffff","#e91e63","#00ffff","#ff6d00","#f44336","#f8bbd0","#ffeb3b","#ef5350"]}}}},
 {"data":{"name":"tags"},"mark":{"type":"text","fontSize":8.7,"align":"center"},
  "encoding":{"x":{"datum":357.4,"type":"quantitative"},"y":{"field":"at","type":"quantitative"},"text":{"field":"label"},
   "color":{"field":"series","legend":null,"scale":{"domain":["teal","bandline","purple","amber","ema","green","white","magenta","cyan","last","red","pink","yellow","volume"],"range":["#ffffff","#131722","#ffffff","#131722","#ffffff","#ffffff","#131722","#ffffff","#131722","#ffffff","#ffffff","#131722","#131722","#ffffff"]}}}},
 {"data":{"values":[{}]},"mark":{"type":"rect","fill":"#1e222d","stroke":"#434651","cornerRadius":3},
  "encoding":{"x":{"datum":354.6,"type":"quantitative"},"x2":{"datum":361.9},"y":{"datum":3601.6,"type":"quantitative"},"y2":{"datum":3593}}},
 {"data":{"values":[{}]},"mark":{"type":"text","text":"USDT","fontSize":8,"color":"#d1d4dc"},
  "encoding":{"x":{"datum":358.3,"type":"quantitative"},"y":{"datum":3597.3,"type":"quantitative"}}},
 {"data":{"values":[{}]},"mark":{"type":"text","text":"barenakedcrypto published on TradingView.com, Apr 05, 2022 12:45 UTC-4","fontSize":9,"align":"left","color":"#b2b5be"},
  "encoding":{"x":{"datum":-7,"type":"quantitative"},"y":{"datum":3615.7,"type":"quantitative"}}},
 {"data":{"values":[{}]},"mark":{"type":"text","text":"Ethereum / TetherUS PERPETUAL FUTURES, 1h, BINANCE","fontSize":9,"align":"left","color":"#b2b5be"},
  "encoding":{"x":{"datum":-5.2,"type":"quantitative"},"y":{"datum":3598,"type":"quantitative"}}},
 {"data":{"values":[{}]},"mark":{"type":"text","text":"17","fontSize":13,"fontWeight":"bold","align":"left","color":"#b2b5be"},
  "encoding":{"x":{"datum":-7.2,"type":"quantitative"},"y":{"datum":3075.4,"type":"quantitative"}}},
 {"data":{"values":[{}]},"mark":{"type":"text","text":"TradingView","fontSize":10,"align":"left","color":"#b2b5be"},
  "encoding":{"x":{"datum":-1.7,"type":"quantitative"},"y":{"datum":3075.4,"type":"quantitative"}}}
]}
]}
